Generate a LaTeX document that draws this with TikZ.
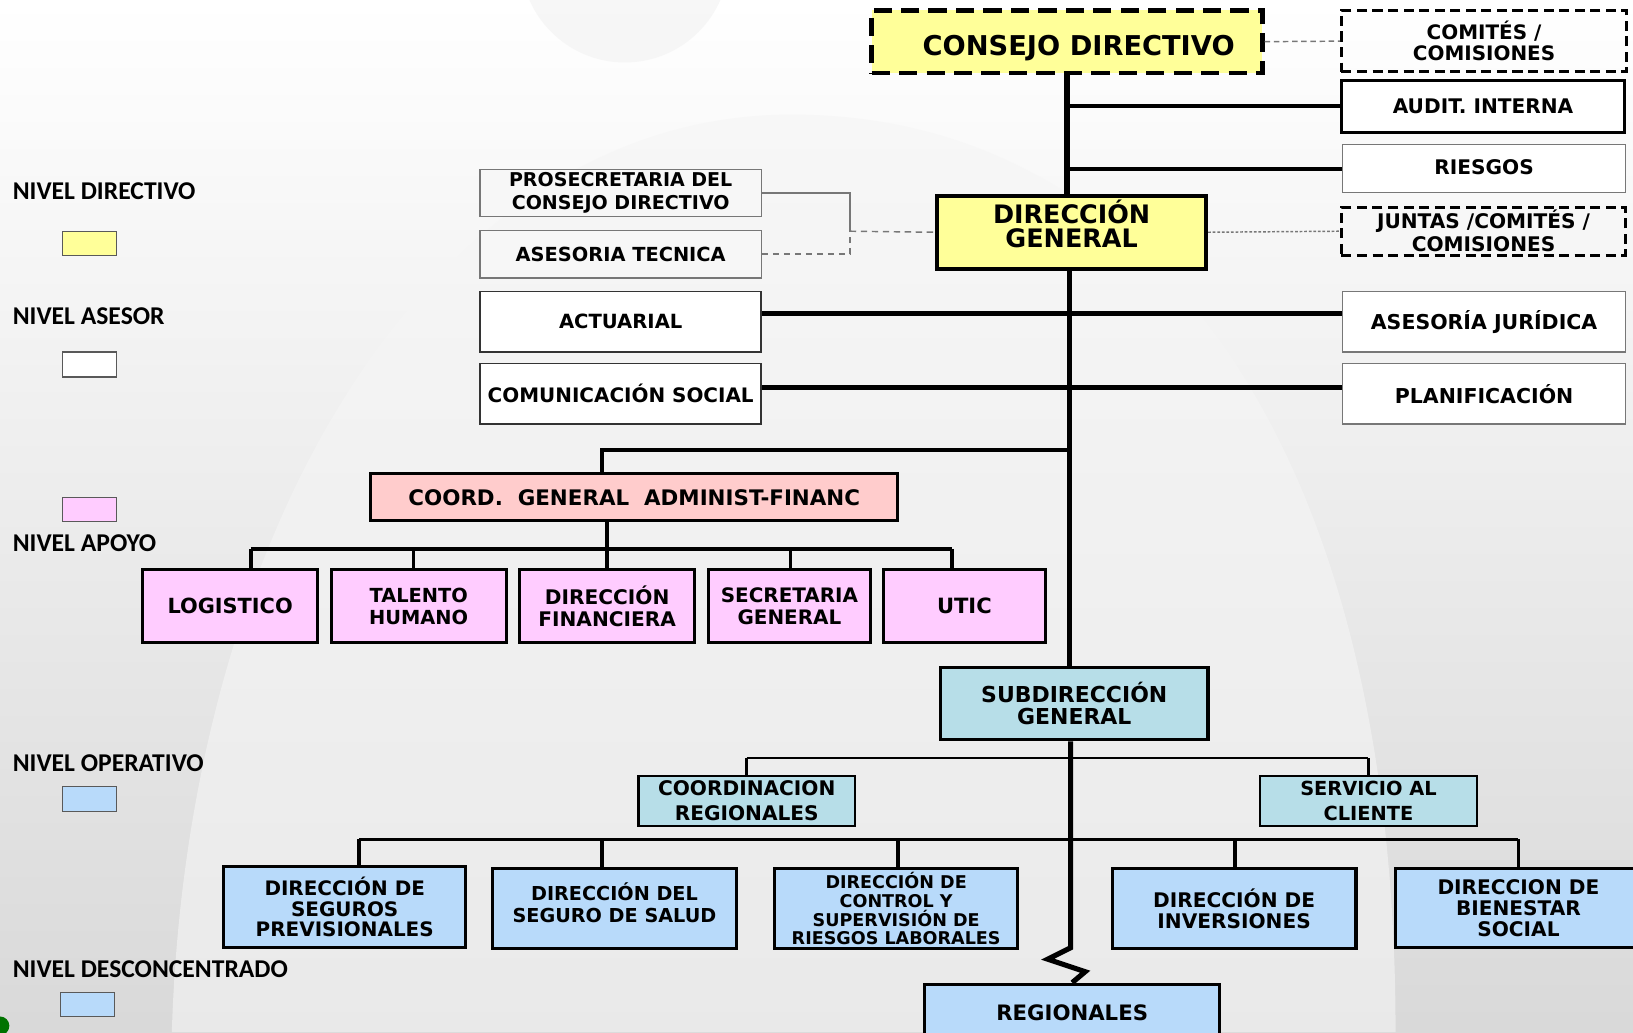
\documentclass[tikz,border=0pt]{standalone}
\usepackage{fontspec}
\setmainfont{DejaVu Sans}
\newfontfamily\legf{Carlito}
\newcommand\fW[2]{\normalfont\bfseries\fontsize{#1}{#2}\selectfont}
\newcommand\fL{\legf\bfseries\fontsize{14}{16}\selectfont}
\definecolor{yel}{HTML}{FFFF99}
\definecolor{pinkc}{HTML}{FFCCCC}
\definecolor{pinkb}{HTML}{FFCCFF}
\definecolor{teal}{HTML}{B7DEE8}
\definecolor{blu}{HTML}{B8DAFA}
\definecolor{lgray}{HTML}{777777}
\newcommand\bx[7]{\node[#6, minimum width={(#4-#2)*0.02cm}, minimum height={(#5-#3)*0.02cm}] (#1) at ({(#2+#4)/2},{(#3+#5)/2}) {#7};}
\begin{document}
\begin{tikzpicture}[x=0.02cm,y=-0.02cm,
  box/.style={draw, inner sep=0pt, align=center, text=black},
  thinbox/.style={box, draw=lgray, line width=0.7pt, fill=white},
  midbox/.style={box, draw=black!80, line width=0.9pt, fill=white},
  heavybox/.style={box, draw=black, line width=1.7pt},
  dashbox/.style={box, draw=black, line width=1.5pt, dash pattern=on 5.5pt off 3pt},
  mainln/.style={line width=2.8pt, black},
  hln/.style={line width=2.3pt, black},
  barln/.style={line width=2pt, black},
  sbar/.style={line width=1.4pt, black},
  gln/.style={line width=0.8pt, lgray},
  legbox/.style={draw=black!65, line width=0.7pt},
  leg/.style={anchor=base west, inner sep=0pt, text=black, font=\fL}
]
\useasboundingbox (0,0) rectangle (1568,991);
\clip (0,0) rectangle (1568,991);
% background
\fill[top color=white, bottom color=black!15] (0,0) rectangle (1568,991);
\fill[black!5, opacity=0.6] (600,-40) circle (100);
\fill[black!4, opacity=0.6] (165,991) .. controls (180,500) and (420,110) .. (760,110) .. controls (1100,110) and (1340,420) .. (1340,991) -- cycle;
\fill[green!45!black] (0,985) circle (9);

% legend
\node[leg] (l1) at (12,192) {NIVEL DIRECTIVO};
\node[leg] (l2) at (12,312) {NIVEL ASESOR};
\node[leg] (l3) at (12,530) {NIVEL APOYO};
\node[leg] (l4) at (12,741) {NIVEL OPERATIVO};
\node[leg] (l5) at (12,939) {NIVEL DESCONCENTRADO};
\draw[legbox, fill=yel] (60,222) rectangle (112,245);
\draw[legbox, fill=white] (60,338) rectangle (112,362);
\draw[legbox, fill=pinkb] (60,478) rectangle (112,501);
\draw[legbox, fill=blu] (60,755) rectangle (112,779);
\draw[legbox, fill=blu] (58,953) rectangle (110,976);

% top level
\bx{cd}{837}{10}{1212}{70}{box, fill=yel, line width=2.6pt, dash pattern=on 10pt off 5pt, font={\fW{14.9}{16}}}{\hspace*{0.45cm}\raisebox{-7.8pt}[0pt][0pt]{CONSEJO DIRECTIVO}}
\bx{com}{1288}{10}{1562}{69}{dashbox, font={\fW{10.9}{11.3}}}{COMITÉS /\\COMISIONES}
\bx{aud}{1288}{77}{1560}{127}{heavybox, fill=white, font={\fW{11}{12}}}{AUDIT. INTERNA}
\bx{rie}{1289}{139}{1561}{185}{thinbox, font={\fW{11}{12}}}{\raisebox{2.3pt}{RIESGOS}}
\bx{jun}{1288}{199}{1561}{245}{dashbox, font={\fW{11}{12.5}}}{JUNTAS /COMITÉS /\\COMISIONES}
\bx{dg}{900}{188}{1158}{258}{box, fill=yel, line width=2.3pt, font={\fW{13.9}{13}}}{DIRECCIÓN\\GENERAL\\[-4pt]\mbox{}}

% asesor left
\bx{pro}{461}{163}{731}{208}{thinbox, fill=white!97!black, font={\fW{10.4}{12.5}}}{PROSECRETARIA DEL\\CONSEJO DIRECTIVO}
\bx{ase}{461}{221}{731}{267}{thinbox, fill=white!97!black, font={\fW{10.6}{12}}}{ASESORIA TECNICA}
\bx{act}{461}{280}{731}{338}{midbox, font={\fW{10.7}{12}}}{\raisebox{-1.5pt}{ACTUARIAL}}
\bx{csoc}{461}{349}{731}{407}{midbox, font={\fW{10.9}{12}}}{COMUNICACIÓN SOCIAL}
% asesor right
\bx{jur}{1289}{280}{1561}{338}{thinbox, font={\fW{11.2}{12}}}{ASESORÍA JURÍDICA}
\bx{pla}{1289}{349}{1561}{407}{thinbox, font={\fW{11.2}{12}}}{PLANIFICACIÓN}

% apoyo
\bx{coord}{356}{455}{862}{500}{heavybox, fill=pinkc, font={\fW{11.7}{12}}}{COORD.\ \ GENERAL\ \ ADMINIST-FINANC}
\bx{log}{137}{547}{305}{617}{heavybox, fill=pinkb, font={\fW{11.4}{12}}}{LOGISTICO}
\bx{tal}{318}{547}{486}{617}{heavybox, fill=pinkb, font={\fW{10.6}{12}}}{TALENTO\\HUMANO}
\bx{fin}{499}{547}{667}{617}{heavybox, fill=pinkb, font={\fW{11}{12}}}{DIRECCIÓN\\FINANCIERA}
\bx{sec}{680}{547}{836}{617}{heavybox, fill=pinkb, font={\fW{10.9}{12}}}{SECRETARIA\\GENERAL}
\bx{utic}{848}{547}{1004}{617}{heavybox, fill=pinkb, font={\fW{11.5}{12}}}{UTIC}

% operativo
\bx{sd}{903}{641}{1160}{710}{box, fill=teal, line width=2pt, font={\fW{12}{12}}}{SUBDIRECCIÓN\\GENERAL}
\bx{cr}{613}{745}{821}{793}{box, fill=teal, line width=1.4pt, font={\fW{11}{13.6}}}{COORDINACION\\REGIONALES}
\bx{sac}{1210}{745}{1418}{793}{box, fill=teal, line width=1.4pt, font={\fW{10.6}{14}}}{SERVICIO AL\\CLIENTE}
\bx{dsp}{215}{832}{447}{910}{heavybox, fill=blu, font={\fW{10.9}{11.3}}}{DIRECCIÓN DE\\SEGUROS\\PREVISIONALES}
\bx{dss}{473}{834}{707}{911}{heavybox, fill=blu, font={\fW{10.5}{12}}}{DIRECCIÓN DEL\\SEGURO DE SALUD\\[-5pt]\mbox{}}
\bx{dcs}{744}{834}{977}{911}{heavybox, fill=blu, font={\fW{9.6}{10.2}}}{DIRECCIÓN DE\\CONTROL Y\\SUPERVISIÓN DE\\RIESGOS LABORALES}
\bx{dinv}{1068}{834}{1302}{911}{heavybox, fill=blu, font={\fW{11}{11.3}}}{DIRECCIÓN DE\\INVERSIONES}
\bx{dbs}{1340}{834}{1576}{910}{heavybox, fill=blu, font={\fW{11}{11.3}}}{DIRECCION DE\\BIENESTAR\\SOCIAL}
\bx{reg}{888}{945}{1171}{1002}{heavybox, fill=blu, font={\fW{11.6}{12}}}{\raisebox{1.5pt}{REGIONALES}}

% connectors top
\coordinate (k1) at (1027,432);
\draw[mainln] (cd.south) -- (cd.south |- dg.north);
\draw[hln] (aud.west) -- (aud.west -| cd.south);
\draw[hln] (rie.west) -- (rie.west -| cd.south);
\draw[gln, dash pattern=on 3pt off 2pt] (cd.east) -- (com.west);
\draw[gln, dash pattern=on 1.5pt off 1pt] (dg.east) -- (jun.west);
\coordinate (j1) at (816,222);
\draw[gln] (pro.east) -| (j1);
\draw[gln, dash pattern=on 3.5pt off 2.5pt] (ase.east) -| (j1);
\draw[gln, dash pattern=on 3.5pt off 2.5pt] (j1) -- (dg.west);
\draw[mainln] (dg.south -| k1) -- (k1 |- sd.north);
\draw[hln] ([yshift=0.16cm]act.east) -- ([yshift=0.16cm]jur.west);
\draw[hln] ([yshift=0.12cm]csoc.east) -- ([yshift=0.12cm]pla.west);

% apoyo connectors
\coordinate (k2) at (578,432);
\draw[barln] (k1) -- (k2) -- (k2 |- coord.north);
\coordinate (b1) at (241,527);
\coordinate (b2) at (397,527);
\coordinate (b3) at (583,527);
\coordinate (b4) at (759,527);
\coordinate (b5) at (914,527);
\draw[barln] (b1) -- (b5);
\draw[barln] (coord.south -| b3) -- (b3);
\draw[barln] (b1) -- (b1 |- log.north);
\draw[barln] (b2) -- (b2 |- tal.north);
\draw[barln] (b3) -- (b3 |- fin.north);
\draw[barln] (b4) -- (b4 |- sec.north);
\draw[barln] (b5) -- (b5 |- utic.north);

% operativo connectors
\coordinate (s1) at (717,728);
\coordinate (s2) at (1314,728);
\draw[sbar] (s1) -- (s2);
\draw[sbar] (s1) -- (cr.north);
\draw[sbar] (s2) -- (sac.north);
\coordinate (t1) at (345,806);
\coordinate (t2) at (578,806);
\coordinate (t3) at (862,806);
\coordinate (t4) at (1186,806);
\coordinate (t5) at (1458,806);
\draw[barln] (t1) -- (t5);
\draw[barln] (t1) -- (t1 |- dsp.north);
\draw[barln] (t2) -- (t2 |- dss.north);
\draw[barln] (t3) -- (t3 |- dcs.north);
\draw[barln] (t4) -- (t4 |- dinv.north);
\draw[barln] (t5) -- (t5 |- dbs.north);
\coordinate (z1) at (1028,910);
\coordinate (z2) at (1006,921);
\coordinate (z3) at (1042,933);
\draw[mainln, line join=miter] (sd.south -| z1) -- (z1) -- (z2) -- (z3) -- (reg.north);
\end{tikzpicture}
\end{document}
